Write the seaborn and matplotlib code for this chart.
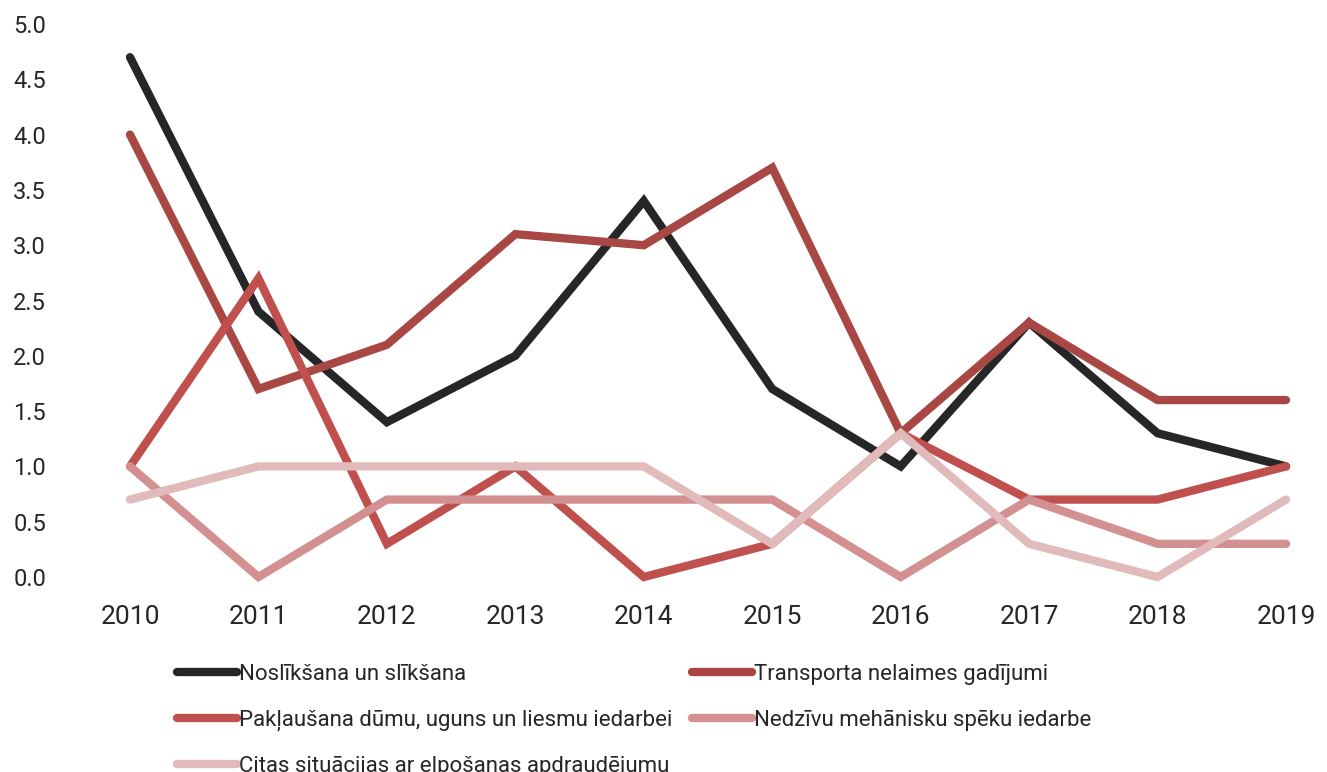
import pandas as pd
import matplotlib.pyplot as plt
import seaborn as sns

# Data
years = [2010, 2011, 2012, 2013, 2014, 2015, 2016, 2017, 2018, 2019]
noslikssana = [4.7, 2.4, 1.4, 2.0, 3.4, 1.7, 1.0, 2.3, 1.3, 1.0]
transports = [4.0, 1.7, 2.1, 3.1, 3.0, 3.7, 1.3, 2.3, 1.6, 1.6]
paklausana = [1.0, 2.7, 0.3, 1.0, 0.0, 0.3, 1.3, 0.7, 0.7, 1.0]
nedzivu = [1.0, 0.0, 0.7, 0.7, 0.7, 0.7, 0.0, 0.7, 0.3, 0.3]
citas = [0.7, 1.0, 1.0, 1.0, 1.0, 0.3, 1.3, 0.3, 0.0, 0.7]

labels = [
    "Noslīkšana un slīkšana",
    "Transporta nelaimes gadījumi",
    "Pakļaušana dūmu, uguns un liesmu iedarbei",
    "Nedzīvu mehānisku spēku iedarbe",
    "Citas situācijas ar elpošanas apdraudējumu",
]
colors = ["#262626", "#A94744", "#C0504D", "#D39090", "#E1BBBB"]

series = [noslikssana, transports, paklausana, nedzivu, citas]
df = pd.concat(
    [pd.DataFrame({"year": years, "value": s, "cause": lab}) for s, lab in zip(series, labels)],
    ignore_index=True,
)

sns.set_style("white")
plt.rcParams["font.family"] = ["Roboto", "DejaVu Sans"]

fig = plt.figure(figsize=(13.27, 7.72), dpi=100)
ax = fig.add_axes([60 / 1327, 195 / 772, 1250 / 1327, 553 / 772])

sns.lineplot(data=df, x="year", y="value", hue="cause", hue_order=labels,
             palette=dict(zip(labels, colors)), linewidth=6, ax=ax, legend=True)

for line in ax.lines:
    line.set_solid_capstyle("round")
    line.set_solid_joinstyle("miter")
    line.set_clip_on(False)

ax.set_xlim(2010 - 70 / 128.44, 2019 + 24 / 128.44)
ax.set_ylim(0, 5)
ax.set_xticks(years)
ax.set_yticks([0, 0.5, 1, 1.5, 2, 2.5, 3, 3.5, 4, 4.5, 5])
ax.set_yticklabels([f"{v:.1f}" for v in ax.get_yticks()])
ax.tick_params(axis="x", labelsize=19, pad=20, length=0, colors="#262626")
ax.tick_params(axis="y", labelsize=17, pad=10, length=0, colors="#262626")
ax.set_xlabel("")
ax.set_ylabel("")
sns.despine(ax=ax, left=True, bottom=True)

handles, labs = ax.get_legend_handles_labels()
ax.get_legend().remove()
order = [0, 2, 4, 1, 3]
leg = fig.legend([handles[i] for i in order], [labs[i] for i in order],
                 ncol=2, loc="upper left", bbox_to_anchor=(168 / 1327, 1 - 655 / 772),
                 frameon=False, fontsize=16, handlelength=2.7, handletextpad=0.1,
                 columnspacing=0.88, labelspacing=1.12, borderaxespad=0)
for h in leg.get_lines():
    h.set_linewidth(6)
    h.set_solid_capstyle("round")

fig.savefig("out.png", dpi=100)
